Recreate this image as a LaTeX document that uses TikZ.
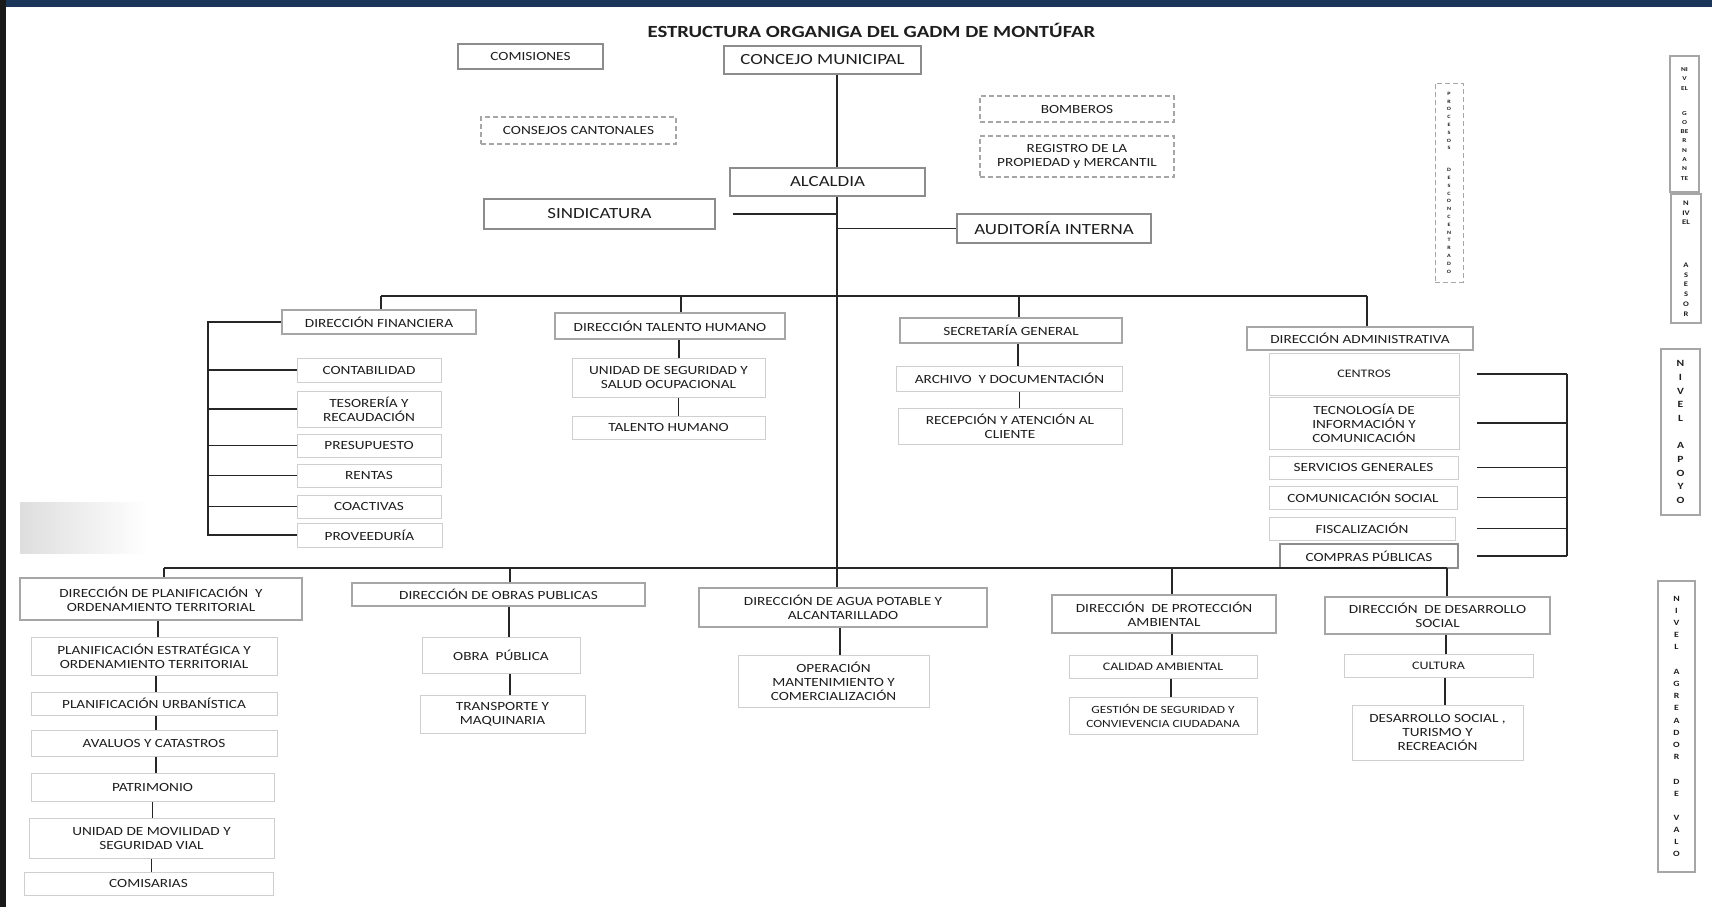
\documentclass[tikz,border=0pt]{standalone}
\usepackage{fontspec}
\setmainfont{Carlito}[FakeStretch=1.22]
\definecolor{banda}{HTML}{1B3559}
\definecolor{tinta}{HTML}{1E1E1E}
\definecolor{linea}{HTML}{262626}
\definecolor{bordeA}{HTML}{8C8C8C}
\definecolor{bordeB}{HTML}{A6A6A6}
\definecolor{bordeC}{HTML}{CFCFCF}

\begin{document}
\begin{tikzpicture}[x=1pt,y=-1pt,
    txt/.style={text=tinta, align=center, inner sep=0pt, font=\fontsize{12.5}{14}\selectfont},
    topbox/.style={txt, draw=bordeA, line width=1.8pt, fill=white, font=\fontsize{15.5}{17}\selectfont},
    dirbox/.style={txt, draw=bordeB, line width=1.8pt, fill=white},
    subbox/.style={txt, draw=bordeC, line width=1pt, fill=white},
    dashbox/.style={txt, draw=bordeB, dashed, dash pattern=on 5pt off 3pt, line width=1.5pt, fill=white},
    nivbox/.style={txt, draw=bordeB, line width=1.8pt, fill=white, font=\bfseries},
    link/.style={draw=linea, line width=1.2pt}]
  \useasboundingbox (0,0) rectangle (1712,907);
  \fill[white] (0,0) rectangle (1712,907);
  \fill[banda] (0,0) rectangle (1712,7);
  \fill[black!90] (0,0) rectangle (6,907);
  \shade[left color=black!13, right color=white] (20,502) rectangle (147,553);

  \node[txt, font=\fontsize{17}{20}\selectfont\bfseries] (titulo) at (871.5,30) {ESTRUCTURA ORGANIGA DEL GADM DE MONTÚFAR};

  % gobierno
  \node[topbox, font=\fontsize{12.5}{14}\selectfont, minimum width=145, minimum height=25] (comis) at (530.5,56.5) {COMISIONES};
  \node[topbox, minimum width=197, minimum height=28] (concejo) at (822.5,60) {CONCEJO MUNICIPAL};
  \node[dashbox, minimum width=195, minimum height=27] (consejos) at (578.5,130.5) {CONSEJOS CANTONALES};
  \node[topbox, minimum width=195, minimum height=28] (alcaldia) at (827.5,182) {ALCALDIA};
  \node[topbox, minimum width=231, minimum height=30] (sindic) at (599.5,214) {SINDICATURA};
  \node[topbox, minimum width=194, minimum height=29] (audit) at (1054,228.5) {AUDITORÍA INTERNA};
  \node[dashbox, minimum width=194, minimum height=26] (bomb) at (1077,109) {BOMBEROS};
  \node[dashbox, minimum width=194, minimum height=41] (regis) at (1077,156.5) {REGISTRO DE LA\\PROPIEDAD y MERCANTIL};
  \node[dashbox, line width=1pt, minimum width=28, minimum height=199, font=\fontsize{5}{7.8}\selectfont\bfseries] (proc) at (1449,182.5)
    {P\\R\\O\\C\\E\\S\\O\\S\\[14pt]D\\E\\S\\C\\O\\N\\C\\E\\N\\T\\R\\A\\D\\O};

  % niveles
  \node[nivbox, minimum width=29, minimum height=136, font=\fontsize{6}{9.3}\selectfont\bfseries] (ngob) at (1684.5,124)
    {NI\\V\\EL\\[15.5pt]G\\O\\BE\\R\\N\\A\\N\\TE};
  \node[nivbox, minimum width=30, minimum height=129, font=\fontsize{7}{9.7}\selectfont\bfseries] (nase) at (1686,258.5)
    {N\\IV\\EL\\[33pt]A\\S\\E\\S\\O\\R};
  \node[nivbox, minimum width=39, minimum height=166, font=\fontsize{9.5}{13.8}\selectfont\bfseries] (napo) at (1680.5,432)
    {N\\I\\V\\E\\L\\[13pt]A\\P\\O\\Y\\O};
  \node[nivbox, minimum width=37, minimum height=291, font=\fontsize{8}{12.1}\selectfont\bfseries] (nagr) at (1676.5,726.5)
    {N\\I\\V\\E\\L\\[13pt]A\\G\\R\\E\\A\\D\\O\\R\\[13pt]D\\E\\[12pt]V\\A\\L\\O};

  % direcciones de apoyo
  \node[dirbox, minimum width=194, minimum height=24] (dfin) at (379,322) {DIRECCIÓN FINANCIERA};
  \node[dirbox, minimum width=230, minimum height=26] (dth) at (670,326) {DIRECCIÓN TALENTO HUMANO};
  \node[dirbox, minimum width=222, minimum height=25] (dsec) at (1011,330.5) {SECRETARÍA GENERAL};
  \node[dirbox, minimum width=226, minimum height=23] (dadm) at (1360,338.5) {DIRECCIÓN ADMINISTRATIVA};

  \node[subbox, minimum width=144, minimum height=24] (cont) at (369,370) {CONTABILIDAD};
  \node[subbox, minimum width=144, minimum height=36] (teso) at (369,409) {TESORERÍA Y\\RECAUDACIÓN};
  \node[subbox, minimum width=144, minimum height=23] (pres) at (369,445.5) {PRESUPUESTO};
  \node[subbox, minimum width=144, minimum height=23] (rent) at (369,475.5) {RENTAS};
  \node[subbox, minimum width=144, minimum height=23] (coac) at (369,506.5) {COACTIVAS};
  \node[subbox, minimum width=145, minimum height=24] (prov) at (369.5,535) {PROVEEDURÍA};

  \node[subbox, minimum width=193, minimum height=39] (useg) at (668.5,377.5) {UNIDAD DE SEGURIDAD Y\\SALUD OCUPACIONAL};
  \node[subbox, minimum width=193, minimum height=23] (thum) at (668.5,427.5) {TALENTO HUMANO};

  \node[subbox, minimum width=226, minimum height=25] (arch) at (1009.5,378.5) {ARCHIVO\ \ Y DOCUMENTACIÓN};
  \node[subbox, minimum width=224, minimum height=36] (recep) at (1010,426) {RECEPCIÓN Y ATENCIÓN AL\\CLIENTE};

  \node[subbox, font=\fontsize{11.5}{14}\selectfont, minimum width=190, minimum height=42] (cent) at (1364,374) {CENTROS};
  \node[subbox, minimum width=190, minimum height=52] (tic) at (1364,423) {TECNOLOGÍA DE\\INFORMACIÓN Y\\COMUNICACIÓN};
  \node[subbox, minimum width=189, minimum height=23] (serv) at (1363.5,467.5) {SERVICIOS GENERALES};
  \node[subbox, minimum width=188, minimum height=23] (comu) at (1363,497.5) {COMUNICACIÓN SOCIAL};
  \node[subbox, minimum width=186, minimum height=23] (fisc) at (1362,528.5) {FISCALIZACIÓN};
  \node[dirbox, draw=bordeA, minimum width=178, minimum height=24] (comp) at (1369,556) {COMPRAS PÚBLICAS};

  % direcciones agregadoras de valor
  \node[dirbox, minimum width=282, minimum height=42] (dpla) at (161,599) {DIRECCIÓN DE PLANIFICACIÓN\ \ Y\\ORDENAMIENTO TERRITORIAL};
  \node[dirbox, minimum width=293, minimum height=23] (dobr) at (498.5,594.5) {DIRECCIÓN DE OBRAS PUBLICAS};
  \node[dirbox, minimum width=288, minimum height=39] (dagu) at (843,607.5) {DIRECCIÓN DE AGUA POTABLE Y\\ALCANTARILLADO};
  \node[dirbox, minimum width=224, minimum height=38] (dpro) at (1164,614) {DIRECCIÓN\ \ DE PROTECCIÓN\\AMBIENTAL};
  \node[dirbox, minimum width=225, minimum height=37] (ddes) at (1437.5,615.5) {DIRECCIÓN\ \ DE DESARROLLO\\SOCIAL};

  \node[subbox, minimum width=246, minimum height=38] (pest) at (154,656) {PLANIFICACIÓN ESTRATÉGICA Y\\ORDENAMIENTO TERRITORIAL};
  \node[subbox, minimum width=246, minimum height=23] (purb) at (154,703.5) {PLANIFICACIÓN URBANÍSTICA};
  \node[subbox, minimum width=246, minimum height=26] (aval) at (154,743) {AVALUOS Y CATASTROS};
  \node[subbox, minimum width=243, minimum height=28] (patr) at (152.5,787) {PATRIMONIO};
  \node[subbox, minimum width=245, minimum height=40] (umov) at (151.5,838) {UNIDAD DE MOVILIDAD Y\\SEGURIDAD VIAL};
  \node[subbox, minimum width=249, minimum height=23] (comi) at (148.5,883.5) {COMISARIAS};

  \node[subbox, minimum width=158, minimum height=36] (opub) at (501,655) {OBRA\ \ PÚBLICA};
  \node[subbox, minimum width=165, minimum height=38] (tran) at (502.5,714) {TRANSPORTE Y\\MAQUINARIA};

  \node[subbox, minimum width=191, minimum height=52] (oper) at (833.5,681) {OPERACIÓN\\MANTENIMIENTO Y\\COMERCIALIZACIÓN};

  \node[subbox, font=\fontsize{11.5}{14}\selectfont, minimum width=188, minimum height=23] (cali) at (1163,666.5) {CALIDAD AMBIENTAL};
  \node[subbox, font=\fontsize{11}{14}\selectfont, minimum width=188, minimum height=37] (gest) at (1163,715.5) {GESTIÓN DE SEGURIDAD Y\\CONVIEVENCIA CIUDADANA};

  \node[subbox, font=\fontsize{11.5}{14}\selectfont, minimum width=189, minimum height=23] (cult) at (1438.5,665.5) {CULTURA};
  \node[subbox, minimum width=171, minimum height=55] (dsoc) at (1437.5,732.5) {DESARROLLO SOCIAL ,\\TURISMO Y\\RECREACIÓN};

  % lineas
  \coordinate (eje) at (837,0);
  \coordinate (bus1) at (381,296);
  \coordinate (bus1r) at (1367,296);
  \coordinate (bus2) at (164,568);
  \coordinate (bus2r) at (1447,568);
  \draw[link] (concejo.south -| eje) -- (alcaldia.north -| eje);
  \draw[link] (alcaldia.south -| eje) -- (dagu.north -| eje);
  \draw[link, shorten <=17pt] (sindic.east) -- (sindic.east -| eje);
  \draw[link] (audit.west -| eje) -- (audit.west);
  \draw[link] (bus1) -- (bus1r);
  \draw[link] (bus2) -- (bus2r);
  \draw[link] ([xshift=2]dfin.north) -- ([xshift=2]dfin.north |- bus1);
  \draw[link] ([xshift=11]dth.north) -- ([xshift=11]dth.north |- bus1);
  \draw[link] ([xshift=8]dsec.north) -- ([xshift=8]dsec.north |- bus1);
  \draw[link] ([xshift=7]dadm.north) -- ([xshift=7]dadm.north |- bus1);
  \draw[link] ([xshift=3]dpla.north) -- ([xshift=3]dpla.north |- bus2);
  \draw[link] ([xshift=11.5]dobr.north) -- ([xshift=11.5]dobr.north |- bus2);
  \draw[link] ([xshift=8]dpro.north) -- ([xshift=8]dpro.north |- bus2);
  \draw[link] ([xshift=9.5]ddes.north) -- ([xshift=9.5]ddes.north |- bus2);

  \coordinate (finx) at (208,0);
  \draw[link] (dfin.west) -- (dfin.west -| finx) -- (prov.west -| finx) -- (prov.west);
  \foreach \n in {cont,teso,pres,rent,coac}
    \draw[link] (\n.west -| finx) -- (\n.west);

  \coordinate (admt) at (1477,0);
  \coordinate (admx) at (1567,0);
  \draw[link] (cent.east -| admx) -- (comp.east -| admx);
  \foreach \n in {cent,tic,serv,comu,fisc,comp}
    \draw[link] (\n.east -| admt) -- (\n.east -| admx);

  \draw[link] ([xshift=9]dth.south) -- ([xshift=9]dth.south |- useg.north);
  \draw[link] ([xshift=10]useg.south) -- ([xshift=10]useg.south |- thum.north);
  \draw[link] ([xshift=7]dsec.south) -- ([xshift=7]dsec.south |- arch.north);
  \draw[link] ([xshift=10]arch.south) -- ([xshift=10]arch.south |- recep.north);
  \draw[link] ([xshift=-3]dpla.south) -- ([xshift=-3]dpla.south |- pest.north);
  \draw[link] ([xshift=2]pest.south) -- ([xshift=2]pest.south |- purb.north);
  \draw[link] ([xshift=2]purb.south) -- ([xshift=2]purb.south |- aval.north);
  \draw[link] ([xshift=2]aval.south) -- ([xshift=2]aval.south |- patr.north);
  \draw[link] (patr.south) -- (patr.south |- umov.north);
  \draw[link] (umov.south) -- (umov.south |- comi.north);
  \draw[link] ([xshift=10.5]dobr.south) -- ([xshift=10.5]dobr.south |- opub.north);
  \draw[link] ([xshift=9]opub.south) -- ([xshift=9]opub.south |- tran.north);
  \draw[link] ([xshift=-3]dagu.south) -- ([xshift=-3]dagu.south |- oper.north);
  \draw[link] ([xshift=8]dpro.south) -- ([xshift=8]dpro.south |- cali.north);
  \draw[link] ([xshift=8]cali.south) -- ([xshift=8]cali.south |- gest.north);
  \draw[link] ([xshift=8.5]ddes.south) -- ([xshift=8.5]ddes.south |- cult.north);
  \draw[link] ([xshift=6.5]cult.south) -- ([xshift=6.5]cult.south |- dsoc.north);
\end{tikzpicture}
\end{document}
